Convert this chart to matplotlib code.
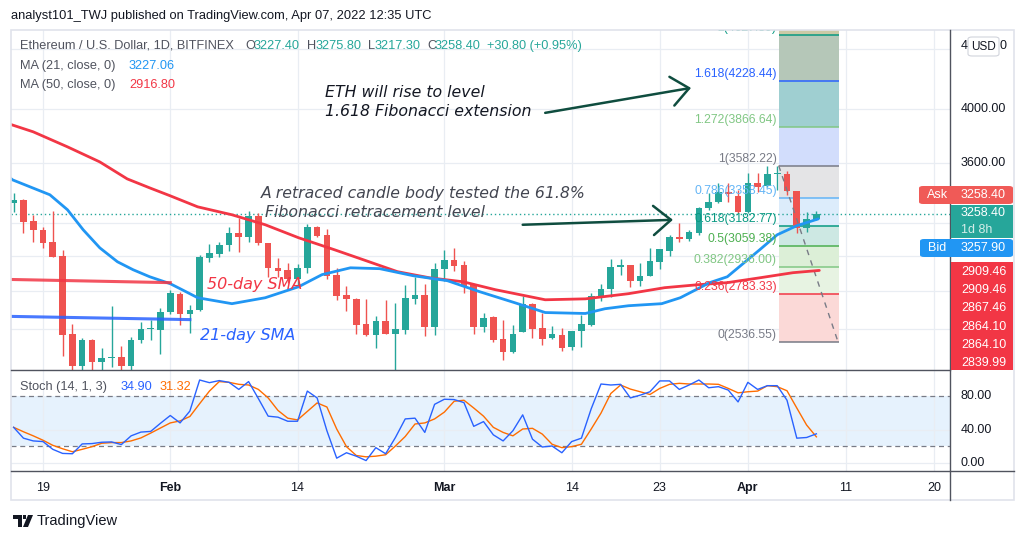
import numpy as np
import matplotlib.pyplot as plt
from matplotlib.patches import Rectangle, FancyBboxPatch, Polygon
from matplotlib.lines import Line2D

plt.rcParams['font.family'] = ['Liberation Sans', 'DejaVu Sans']

W, H = 1027, 539

# ---- data ----
first_day = 15   # day index (Jan 1 = 0) of the first candle
opens = [3328, 3349, 3212, 3160, 3085, 3000, 2575, 2417, 2543, 2440,
         2455, 2464, 2420, 2547, 2600, 2597, 2690, 2787, 2676, 2701,
         2991, 3015, 3065, 3141, 3116, 3247, 3079, 2932, 2921, 2870,
         2932, 3178, 3128, 2893, 2781, 2759, 2628, 2571, 2644, 2576,
         2597, 2759, 2781, 2612, 2927, 2979, 2950, 2842, 2612, 2665,
         2552, 2488, 2586, 2733, 2607, 2557, 2571, 2513, 2592, 2623,
         2770, 2814, 2938, 2950, 2859, 2887, 2967, 3031, 3116, 3104,
         3141, 3297, 3336, 3402, 3376, 3272, 3463, 3440, 3524, 3524,
         3409, 3172, 3227.4]
highs = [3396, 3356, 3253, 3178, 3278, 3037, 2628, 2553, 2548, 2508,
         2722, 2518, 2558, 2638, 2649, 2712, 2809, 2798, 2727, 3009,
         3070, 3085, 3178, 3234, 3278, 3265, 3079, 2990, 2962, 2956,
         3196, 3184, 3165, 2932, 2831, 2765, 2759, 2670, 2754, 2738,
         2836, 2881, 2842, 2962, 3037, 3049, 2973, 2842, 2681, 2670,
         2649, 2623, 2776, 2738, 2681, 2618, 2607, 2592, 2675, 2792,
         2842, 2985, 2985, 2950, 2962, 3049, 3043, 3128, 3202, 3159,
         3304, 3395, 3462, 3462, 3416, 3531, 3531, 3580, 3580, 3545,
         3409, 3272, 3275.8]
lows = [3272, 3141, 3085, 3049, 2995, 2468, 2402, 2400, 2400, 2400,
        2412, 2400, 2400, 2530, 2547, 2478, 2678, 2623, 2582, 2696,
        2968, 2997, 3031, 3025, 3085, 3067, 2881, 2881, 2847, 2836,
        2904, 3116, 2870, 2754, 2696, 2576, 2566, 2508, 2576, 2390,
        2576, 2733, 2566, 2571, 2859, 2915, 2792, 2576, 2586, 2533,
        2449, 2483, 2586, 2557, 2522, 2552, 2493, 2498, 2513, 2618,
        2749, 2770, 2893, 2825, 2831, 2887, 2927, 3003, 3085, 3091,
        3128, 3285, 3330, 3336, 3266, 3266, 3402, 3436, 3416, 3382,
        3141, 3147, 3217.3]
closes = [3349, 3209, 3160, 3079, 2997, 2571, 2417, 2543, 2440, 2458,
          2464, 2420, 2547, 2602, 2608, 2690, 2793, 2676, 2701, 2997,
          3021, 3065, 3141, 3116, 3247, 3079, 2932, 2915, 2870, 2932,
          3178, 3122, 2887, 2776, 2759, 2623, 2571, 2644, 2576, 2602,
          2765, 2781, 2612, 2927, 2979, 2944, 2831, 2612, 2659, 2547,
          2488, 2576, 2733, 2602, 2552, 2576, 2508, 2592, 2628, 2776,
          2814, 2938, 2950, 2859, 2887, 2973, 3043, 3116, 3104, 3147,
          3297, 3336, 3402, 3389, 3272, 3462, 3435, 3524, 3531, 3409,
          3172, 3227.4, 3258.4]

ma21_days = [14.0, 14.9, 18.7, 20.5, 22.1, 23.8, 25.6, 27.2, 28.9, 31.0, 32.2,
             33.8, 37.3, 40.7, 44.1, 46.5, 49.4, 52.4, 55.8, 59.3, 62.6,
             66.2, 69.3, 73.4, 75.4, 77.8, 81.2, 83.1, 86.1, 87.9, 91.2,
             93.0, 95.0, 97.2]
ma21 = [3530, 3483, 3383, 3285, 3159, 3049, 2967, 2921, 2881, 2842, 2809,
        2765, 2733, 2765, 2825, 2893, 2932, 2927, 2887, 2859, 2798,
        2738, 2686, 2681, 2706, 2722, 2733, 2765, 2848, 2881, 3037,
        3128, 3184, 3227]
ma50_days = [14.0, 17.0, 20.5, 23.8, 26.6, 28.9, 31.0, 33.8, 37.3, 40.7,
             44.1, 47.8, 50.7, 54.2, 57.5, 60.9, 64.2, 69.3, 73.4, 77.8,
             81.5, 84.8, 87.9, 91.2, 94.6, 97.3]
ma50 = [3900, 3827, 3716, 3608, 3490, 3429, 3376, 3304, 3253, 3190,
        3110, 3037, 2979, 2910, 2875, 2853, 2809, 2754, 2759, 2787,
        2820, 2836, 2848, 2875, 2904, 2917]

stoch_k = [42.7, 29.7, 26.4, 25.6, 16.3, 11.4, 11.0, 22.8, 23.2, 24.8,
           25.2, 22.0, 32.5, 37.0, 37.8, 47.6, 56.9, 48.0, 62.2, 99.5,
           96.3, 98.8, 96.7, 88.2, 97.6, 77.2, 56.1, 54.9, 50.0, 50.0,
           86.2, 78.0, 38.6, 5.7, 12.2, 8.1, 2.8, 18.3, 11.0, 30.5,
           52.8, 53.7, 36.6, 70.3, 76.4, 76.0, 72.4, 43.9, 49.6, 33.7,
           26.4, 38.6, 57.7, 28.5, 19.1, 20.3, 12.2, 25.6, 29.7, 65.0,
           94.7, 93.5, 94.3, 78.0, 81.3, 85.4, 98.4, 98.4, 88.2, 93.5,
           99.5, 90.2, 91.5, 87.4, 73.2, 96.7, 88.2, 92.7, 92.7, 75.2,
           29.7, 30.5, 34.9]
stoch_d = [42.7, 37.4, 32.5, 27.2, 21.1, 17.0, 13.4, 16.3, 19.5, 23.6,
           24.4, 24.4, 26.4, 30.0, 35.8, 41.9, 48.0, 50.4, 55.7, 71.1,
           86.2, 97.6, 96.7, 94.3, 93.5, 88.2, 78.0, 63.0, 53.7, 51.6,
           61.8, 72.0, 67.1, 40.7, 19.5, 8.9, 7.3, 8.1, 9.8, 20.3,
           31.7, 46.7, 48.0, 52.8, 61.0, 74.0, 75.2, 65.9, 56.1, 42.7,
           36.6, 32.5, 40.7, 41.5, 34.6, 22.4, 18.3, 19.5, 22.4, 40.7,
           59.8, 83.3, 93.5, 88.6, 85.4, 82.1, 89.4, 94.3, 95.5, 94.7,
           94.7, 94.7, 94.3, 89.4, 84.1, 85.4, 86.2, 92.7, 91.5, 86.6,
           65.9, 45.5, 31.3]

fib_ratios = ['0', '0.236', '0.382', '0.5', '0.618', '0.786', '1', '1.272', '1.618', '2']
fib_prices = [2536.55, 2783.33, 2936.00, 3059.38, 3182.77, 3358.45, 3582.22, 3866.64, 4228.44, 4627.89]
fib_line_colors = ['#787b86', '#f23645', '#81c784', '#4caf50', '#089981', '#64b5f6',
                   '#787b86', '#81c784', '#2962ff', '#089981']
fib_fill_colors = ['#fbd9d7', '#e7f3e2', '#dcefd7', '#cde8e3', '#dcecfb', '#e4e4e6',
                   '#d2ddfc', '#9fcfd1', '#b5c7b8', '#cbc9a6']
fib_start, fib_end = 93.15, 99.3
fib_trend_days = [93.15, 99.15]
fib_trend_prices = [3582.22, 2545]

date_ticks = [18, 31, 44, 59, 72, 81, 90, 100, 109]
date_labels = ['19', 'Feb', '14', 'Mar', '14', '23', 'Apr', '11', '20']
price_grid = [2400, 2600, 2800, 3000, 3200, 3600, 4000, 4500]
price_labels = {3600: '3600.00', 4000: '4000.00'}
last_price = 3258.4

right_tags = ['2909.46', '2909.46', '2867.46', '2864.10', '2864.10', '2839.99']

GREEN, RED = '#26a69a', '#ef5350'
GRID = '#e9edf3'
TXT = '#131722'
GREY = '#50535e'


def fx(x):
    return x / W


def fy(y):
    return 1 - y / H


fig = plt.figure(figsize=(W / 100, H / 100), dpi=100)
fig.patch.set_facecolor('white')

L, R = 11, 950
ax = fig.add_axes([fx(L), fy(370), fx(R) - fx(L), fy(30) - fy(370)])
ax2 = fig.add_axes([fx(L), fy(471), fx(R) - fx(L), fy(370) - fy(471)], sharex=ax)

# ---- main price pane ----
ax.set_yscale('log')
ax.set_ylim(2401.5, 4672)
ax.set_xlim(14.73, 110.65)
ax.yaxis.set_minor_locator(plt.NullLocator())
ax.set_yticks(price_grid)
ax.set_xticks(date_ticks)
ax.tick_params(length=0, labelleft=False, labelbottom=False)
ax.grid(True, color=GRID, lw=0.9)
ax.set_axisbelow(True)
for s in ax.spines.values():
    s.set_visible(False)

days = np.arange(first_day, first_day + len(opens))
o = np.array(opens)
c = np.array(closes)
cols = np.where(c >= o, GREEN, RED)
ax.vlines(days, lows, highs, colors=cols, lw=1.0, zorder=3)
lo = np.minimum(o, c)
hi = np.maximum(o, c)
ax.bar(days, np.maximum(hi - lo, 6), bottom=lo, width=0.68, color=cols, lw=0, zorder=3)

# fibonacci extension tool
for i in range(len(fib_prices)):
    top = fib_prices[i + 1] if i + 1 < len(fib_prices) else 5000
    ax.fill_between([fib_start, fib_end], fib_prices[i], top, color=fib_fill_colors[i], lw=0, zorder=1)
for r, p, col in zip(fib_ratios, fib_prices, fib_line_colors):
    ax.hlines(p, fib_start, fib_end, color=col, lw=1.1, zorder=2)
    ax.text(fib_start - 0.2, p * 1.002, f'{r}({p:.2f})', ha='right', va='bottom',
            color=col, fontsize=8.8, zorder=5, clip_on=True)
ax.plot(fib_trend_days, fib_trend_prices, color='#787b86', ls=(0, (4, 4)), lw=1, zorder=4)

# moving averages
ax.plot(ma50_days, ma50, color='#f23645', lw=2.0, zorder=4, solid_capstyle='round')
ax.plot(ma21_days, ma21, color='#2196f3', lw=2.0, zorder=4, solid_capstyle='round')

# author's marker lines
ax.plot([14.5, 31.0], [2866, 2848], color='#f23645', lw=2.2, alpha=0.85, zorder=4)
ax.plot([14.5, 33.0], [2666, 2649], color='#2962ff', lw=2.2, alpha=0.85, zorder=4)
ax.text(34.75, 2836, '50-day SMA', color='#f23645', fontsize=11.5, style='italic',
        family='DejaVu Sans', va='center', zorder=6)
ax.text(34.0, 2567, '21-day SMA', color='#2962ff', fontsize=11.5, style='italic',
        family='DejaVu Sans', va='center', zorder=6)

ax.axhline(last_price, color=GREEN, ls=(0, (1, 2)), lw=1, zorder=2)

# annotations
note_kw = dict(fontsize=11.3, style='italic', family='DejaVu Sans', va='center', zorder=6)
ax.text(46.8, 4130, 'ETH will rise to level', color=TXT, **note_kw)
ax.text(46.8, 3979, '1.618 Fibonacci extension', color=TXT, **note_kw)
ax.text(40.3, 3389, 'A retraced candle body tested the 61.8%', color='#434651', **note_kw)
ax.text(40.7, 3266, 'Fibonacci retracement level', color='#434651', **note_kw)
arrow_kw = dict(arrowstyle='->,head_length=0.6,head_width=0.5', color='#0f4d3f', lw=1.8,
                mutation_scale=21, shrinkA=0, shrinkB=0)
ax.annotate('', xy=(84.2, 4171), xytext=(69.3, 3972), arrowprops=arrow_kw, zorder=6)
ax.annotate('', xy=(82.35, 3221), xytext=(67.0, 3190), arrowprops=arrow_kw, zorder=6)

# price axis labels
xr = (961 - L) / (R - L)
for p, lab in price_labels.items():
    ax.text(xr, p, lab, transform=ax.get_yaxis_transform(), ha='left', va='center',
            fontsize=9, color=TXT, clip_on=False)

# ---- stochastic pane ----
ax2.set_ylim(-9.7, 111.5)
ax2.set_yticks([0, 40])
ax2.axhspan(20, 80, color='#e6f2fd', lw=0, zorder=0)
ax2.grid(True, color=GRID, lw=0.9)
ax2.set_axisbelow(True)
ax2.axhline(80, color='#787b86', ls=(0, (4, 3)), lw=0.9)
ax2.axhline(20, color='#787b86', ls=(0, (4, 3)), lw=0.9)
ax2.plot(days, stoch_d, color='#ff6d00', lw=1.0, zorder=3)
ax2.plot(days, stoch_k, color='#2962ff', lw=1.0, zorder=4)
for s in ax2.spines.values():
    s.set_visible(False)
ax2.set_xticks(date_ticks)
ax2.set_xticklabels(date_labels)
ax2.tick_params(axis='y', length=0, labelleft=False)
ax2.tick_params(axis='x', length=0, pad=8, labelsize=9, labelcolor=TXT)
for t in ax2.get_xticklabels():
    if t.get_text() in ('Feb', 'Mar', 'Apr'):
        t.set_fontweight('bold')
for v in (80, 40, 0):
    ax2.text(xr, v, f'{v:.2f}', transform=ax2.get_yaxis_transform(), ha='left', va='center',
             fontsize=9, color=TXT, clip_on=False)

# ---- frame and separators ----
fig.patches.append(Rectangle((fx(11), fy(500)), fx(1014) - fx(11), fy(30) - fy(500),
                             transform=fig.transFigure, fill=False, ec='#e0e3eb', lw=1.2))
fig.lines.append(Line2D([fx(11), fx(950)], [fy(370), fy(370)], transform=fig.transFigure, color=GREY, lw=1))
fig.lines.append(Line2D([fx(11), fx(1014)], [fy(471), fy(471)], transform=fig.transFigure, color=GREY, lw=1))
fig.lines.append(Line2D([fx(950), fx(950)], [fy(30), fy(500)], transform=fig.transFigure, color=GREY, lw=1))


def box(x0, y0, x1, y1, color, rounded=False, ec='none'):
    if rounded:
        p = FancyBboxPatch((fx(x0), fy(y1)), fx(x1) - fx(x0), fy(y0) - fy(y1),
                           boxstyle='round,pad=0,rounding_size=0.004', transform=fig.transFigure,
                           fc=color, ec=ec, lw=0.8, zorder=5)
    else:
        p = Rectangle((fx(x0), fy(y1)), fx(x1) - fx(x0), fy(y0) - fy(y1),
                      transform=fig.transFigure, fc=color, ec=ec, lw=0, zorder=5)
    fig.patches.append(p)


def ftext(x, y, s, color, size=9, ha='left', **kw):
    return fig.text(fx(x), fy(y), s, color=color, fontsize=size, ha=ha, va='center', zorder=6, **kw)


# top price label is half hidden behind the USD button
ftext(961, 46, '4', TXT, 9)
ftext(1007, 46, '0', TXT, 9, ha='right')
box(968, 37, 999, 56, 'white', rounded=True, ec='#d1d4dc')
ftext(983.5, 46.5, 'USD', TXT, 8.5, ha='center')

# right-side price tags
box(919, 186, 1013, 204, '#f05a57', rounded=True)
ftext(927, 195, 'Ask', 'white', 9)
ftext(961, 195, '3258.40', 'white', 9)
box(951, 205, 1013, 238, GREEN)
ftext(961, 213.5, '3258.40', 'white', 9)
ftext(961, 230, '1d 8h', '#d3ede9', 9)
box(920, 239, 1013, 257, '#2196f3', rounded=True)
ftext(928, 248, 'Bid', 'white', 9)
ftext(961, 248, '3257.90', 'white', 9)
box(951, 262, 1013, 370, '#f23645')
for k, lab in enumerate(right_tags):
    ftext(961, 272 + k * 18.2, lab, 'white', 9)

# header texts
ftext(11, 16, 'analyst101_TWJ published on TradingView.com, Apr 07, 2022 12:35 UTC', TXT, 9.3)
hs = 9.2
ftext(20, 46, 'Ethereum / U.S. Dollar, 1D, BITFINEX', GREY, hs)
for x, s, col in [(245, 'O', GREY), (254, '3227.40', GREEN), (307, 'H', GREY), (316, '3275.80', GREEN),
                  (368, 'L', GREY), (375, '3217.30', GREEN), (427, 'C', GREY), (435, '3258.40', GREEN),
                  (487, '+30.80 (+0.95%)', GREEN)]:
    ftext(x, 46, s, col, hs)
ftext(20, 66, 'MA (21, close, 0)', GREY, hs)
ftext(129, 66, '3227.06', '#2196f3', hs)
ftext(20, 85, 'MA (50, close, 0)', GREY, hs)
ftext(129, 85, '2916.80', '#f23645', hs)
ftext(20, 387, 'Stoch (14, 1, 3)', GREY, hs)
ftext(121, 387, '34.90', '#2962ff', hs)
ftext(160, 387, '31.32', '#ff6d00', hs)

# TradingView logo
fig.patches.append(Polygon([(fx(13), fy(515)), (fx(22), fy(515)), (fx(22), fy(527)), (fx(18), fy(527)),
                            (fx(18), fy(519)), (fx(13), fy(519))], closed=True, transform=fig.transFigure,
                           fc=TXT, ec='none'))
fig.patches.append(Polygon([(fx(28), fy(515)), (fx(33), fy(515)), (fx(28), fy(527)), (fx(23), fy(527))],
                           closed=True, transform=fig.transFigure, fc=TXT, ec='none'))
fig.patches.append(Rectangle((fx(23), fy(519)), fx(3) - fx(0), fy(515) - fy(519),
                             transform=fig.transFigure, fc=TXT, ec='none'))
ftext(37, 521, 'TradingView', TXT, 10.5)

fig.savefig('out.png', dpi=100, facecolor='white')
